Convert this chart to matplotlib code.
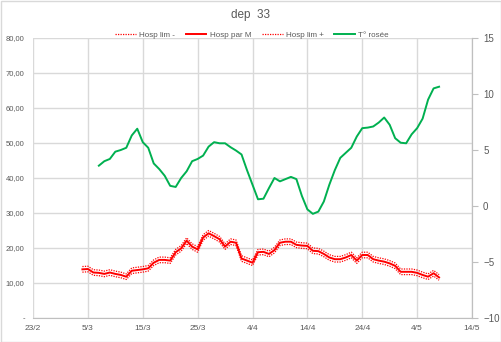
import matplotlib
matplotlib.use("Agg")
import matplotlib.pyplot as plt
from matplotlib.patches import Rectangle
import numpy as np
import pandas as pd

# day 0 = 23/2
hosp_start = 9
hosp_m = [13.9, 14.0, 13.0, 12.9, 12.6, 13.0, 12.6, 12.3, 11.8, 13.5,
          13.7, 13.9, 14.2, 15.8, 16.6, 16.6, 16.4, 18.8, 19.9, 22.1,
          20.4, 19.6, 23.0, 24.2, 23.4, 22.5, 20.4, 21.8, 21.5, 17.0,
          16.4, 15.8, 18.8, 18.9, 18.3, 19.4, 21.5, 21.8, 21.8, 20.9,
          20.7, 20.6, 19.2, 19.1, 18.3, 17.3, 16.8, 16.8, 17.3, 18.0,
          16.4, 18.0, 18.0, 16.8, 16.4, 16.1, 15.6, 14.9, 13.2, 13.2,
          13.2, 12.9, 12.3, 11.8, 12.8, 11.6]
hosp_lo = [13.1, 13.2, 12.2, 12.1, 11.8, 12.2, 11.8, 11.5, 11.0, 12.7,
           12.9, 13.1, 13.4, 15.0, 15.8, 15.8, 15.6, 18.0, 19.1, 21.3,
           19.6, 18.8, 22.2, 23.4, 22.6, 21.7, 19.6, 21.0, 20.7, 16.2,
           15.6, 15.0, 18.0, 18.1, 17.5, 18.6, 20.7, 21.0, 21.0, 20.1,
           19.9, 19.8, 18.4, 18.3, 17.5, 16.5, 16.0, 16.0, 16.5, 17.2,
           15.6, 17.2, 17.2, 16.0, 15.6, 15.3, 14.8, 14.1, 12.4, 12.4,
           12.4, 12.1, 11.5, 11.0, 12.0, 10.8]
hosp_hi = [14.7, 14.8, 13.8, 13.7, 13.4, 13.8, 13.4, 13.1, 12.6, 14.3,
           14.5, 14.7, 15.0, 16.6, 17.4, 17.4, 17.2, 19.6, 20.7, 22.9,
           21.2, 20.4, 23.8, 25.0, 24.2, 23.3, 21.2, 22.6, 22.3, 17.8,
           17.2, 16.6, 19.6, 19.7, 19.1, 20.2, 22.3, 22.6, 22.6, 21.7,
           21.5, 21.4, 20.0, 19.9, 19.1, 18.1, 17.6, 17.6, 18.1, 18.8,
           17.2, 18.8, 18.8, 17.6, 17.2, 16.9, 16.4, 15.7, 14.0, 14.0,
           14.0, 13.7, 13.1, 12.6, 13.6, 12.4]

dew_start = 12
dew_point = [3.6, 4.0, 4.2, 4.85, 5.0, 5.2, 6.3, 6.9, 5.7, 5.2,
             3.8, 3.3, 2.7, 1.8, 1.7, 2.5, 3.1, 4.0, 4.2, 4.5,
             5.3, 5.7, 5.6, 5.6, 5.25, 4.95, 4.6, 3.2, 1.9, 0.6,
             0.65, 1.6, 2.5, 2.2, 2.4, 2.6, 2.4, 0.9, -0.3, -0.7,
             -0.5, 0.4, 1.9, 3.2, 4.3, 4.75, 5.2, 6.2, 6.95, 7.0,
             7.1, 7.45, 7.9, 7.25, 6.05, 5.65, 5.6, 6.4, 6.95, 7.8,
             9.5, 10.5, 10.65]

x_tick_labels = ["23/2", "5/3", "15/3", "25/3", "4/4", "14/4", "24/4", "4/5", "14/5"]
left_ticks = [0, 10, 20, 30, 40, 50, 60, 70, 80]
left_labels = ["-", "10,00", "20,00", "30,00", "40,00", "50,00", "60,00", "70,00", "80,00"]
right_ticks = [-10, -5, 0, 5, 10, 15]

GREY_TXT = "#595959"
GRID = "#d9d9d9"

fig = plt.figure(figsize=(5.02, 3.42), dpi=100)
plt.rcParams["font.family"] = ["Liberation Sans", "DejaVu Sans"]

ax = fig.add_axes([33 / 502, 24 / 342, 439 / 502, 280 / 342])
ax2 = ax.twinx()

x_h = np.arange(hosp_start, hosp_start + len(hosp_m))
x_d = np.arange(dew_start, dew_start + len(dew_point))

l1, = ax.plot(x_h, hosp_lo, color="#ff0000", lw=0.9, ls=(0, (1, 1)), label="Hosp lim -")
l2, = ax.plot(x_h, hosp_m, color="#ff0000", lw=1.4, label="Hosp par M")
l3, = ax.plot(x_h, hosp_hi, color="#ff0000", lw=0.9, ls=(0, (1, 1)), label="Hosp lim +")
l4, = ax2.plot(x_d, dew_point, color="#00b050", lw=1.4, label="T° rosée")

ax.set_xlim(0, 80)
ax.set_ylim(0, 80)
ax2.set_ylim(-10, 15)
ax.set_xticks(np.arange(0, 81, 10))
ax.set_xticklabels(x_tick_labels)
ax.set_yticks(left_ticks)
ax.set_yticklabels(left_labels)
ax2.set_yticks(right_ticks)

ax.grid(True, color=GRID, lw=1.0)
ax.set_axisbelow(True)
for a in (ax, ax2):
    for s in ("top", "left"):
        a.spines[s].set_visible(False)
    a.spines["bottom"].set_color("#bfbfbf")
    a.spines["right"].set_color("#bfbfbf")
ax2.spines["bottom"].set_visible(False)

ax.tick_params(axis="x", colors=GREY_TXT, labelsize=6, length=0, pad=5)
ax.tick_params(axis="y", colors=GREY_TXT, labelsize=5.5, length=0, pad=6)
ax2.tick_params(axis="y", colors=GREY_TXT, labelsize=7, length=4, color="#bfbfbf", pad=4)

fig.text(0.5, 1 - 15 / 342, "dep  33", ha="center", va="center", fontsize=8.5, color=GREY_TXT)
fig.legend(handles=[l1, l2, l3, l4], loc="center", bbox_to_anchor=(252 / 502, 1 - 35 / 342),
           ncol=4, frameon=False, fontsize=5.8, labelcolor=GREY_TXT, handlelength=2.6,
           columnspacing=1.3, handletextpad=0.4)

fig.patches.append(Rectangle((0.5 / 502, 0.5 / 342), 500.5 / 502, 340.5 / 342, transform=fig.transFigure,
                             fill=False, edgecolor="#d9d9d9", lw=1.0))

fig.savefig("out.png", dpi=100)
